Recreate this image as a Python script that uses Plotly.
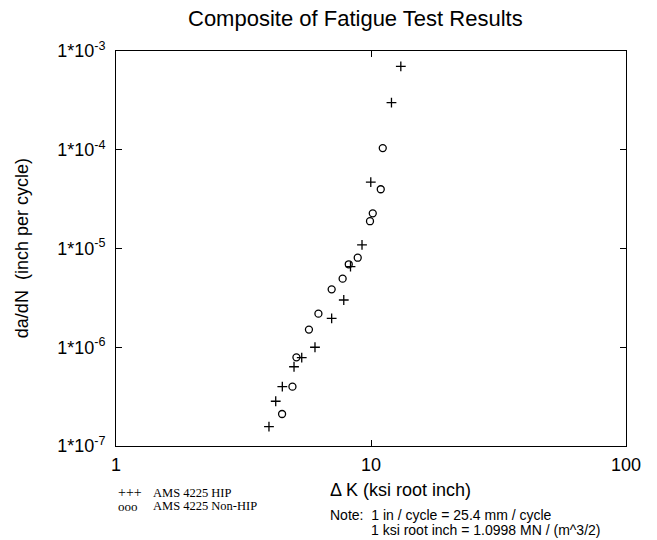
import plotly.graph_objects as go

# Data (Delta K in ksi*sqrt(in), da/dN in in/cycle)
hip_dk = [13.09, 12.03, 9.98, 9.22, 8.31, 7.82, 7.01, 6.03, 5.35, 4.99, 4.49, 4.23, 3.98]
hip_dadn = [7.0e-4, 3.0e-4, 4.71e-5, 1.09e-5, 6.54e-6, 3.01e-6, 1.96e-6, 1.0e-6, 7.84e-7, 6.35e-7, 3.99e-7, 2.84e-7, 1.57e-7]

nonhip_dk = [11.12, 10.92, 10.16, 9.91, 8.87, 8.18, 7.74, 7.01, 6.22, 5.71, 5.10, 4.92, 4.48]
nonhip_dadn = [1.04e-4, 3.98e-5, 2.27e-5, 1.89e-5, 8.07e-6, 6.92e-6, 4.95e-6, 3.86e-6, 2.19e-6, 1.51e-6, 7.91e-7, 3.99e-7, 2.11e-7]

x_tickvals = [1, 10, 100]
x_ticktext = ["1", "10", "100"]
y_tickvals = [1e-7, 1e-6, 1e-5, 1e-4, 1e-3]
y_ticktext = ["1*10<sup>-7</sup>", "1*10<sup>-6</sup>", "1*10<sup>-5</sup>", "1*10<sup>-4</sup>", "1*10<sup>-3</sup>"]

SANS = "Liberation Sans, Arial, sans-serif"
SERIF = "Liberation Serif, Times New Roman, serif"

fig = go.Figure()
fig.add_trace(go.Scatter(
    x=hip_dk, y=hip_dadn, mode="markers", name="AMS 4225 HIP",
    marker=dict(symbol="cross-thin", size=7, color="black",
                line=dict(color="black", width=1.3)),
))
fig.add_trace(go.Scatter(
    x=nonhip_dk, y=nonhip_dadn, mode="markers", name="AMS 4225 Non-HIP",
    marker=dict(symbol="circle-open", size=7, color="black",
                line=dict(color="black", width=1.3)),
))

axis_common = dict(
    showline=True, linecolor="black", linewidth=1, mirror="ticks",
    ticks="inside", ticklen=6, tickcolor="black", tickwidth=1,
    showgrid=False, zeroline=False,
    tickfont=dict(family=SANS, size=18, color="black"),
)

fig.update_xaxes(type="log", range=[0, 2], tickvals=x_tickvals, ticktext=x_ticktext,
                 ticklabelstandoff=2, **axis_common)
fig.update_yaxes(type="log", range=[-7, -3], tickvals=y_tickvals, ticktext=y_ticktext,
                 ticklabelstandoff=6, **axis_common)

fig.update_layout(
    width=657, height=540,
    margin=dict(l=116, r=31, t=51, b=94),
    paper_bgcolor="white", plot_bgcolor="white",
    showlegend=False,
    font=dict(family=SANS, color="black"),
)

annotations = [
    dict(text="Composite of Fatigue Test Results", x=0.47, y=1.0835, xanchor="center",
         font=dict(family=SANS, size=22, color="black")),
    dict(text="da/dN  (inch per cycle)", x=-0.185, y=0.5, textangle=-90, xanchor="center",
         font=dict(family=SANS, size=18, color="black")),
    dict(text="Δ K (ksi root inch)", x=0.5575, y=-0.111, xanchor="center",
         font=dict(family=SANS, size=18, color="black")),
    dict(text="+++", x=0.0, y=-0.118, xanchor="left",
         font=dict(family=SERIF, size=14, color="black")),
    dict(text="AMS 4225 HIP", x=0.068, y=-0.118, xanchor="left",
         font=dict(family=SERIF, size=12.5, color="black")),
    dict(text="ooo", x=0.0, y=-0.152, xanchor="left",
         font=dict(family=SERIF, size=13, color="black")),
    dict(text="AMS 4225 Non-HIP", x=0.068, y=-0.152, xanchor="left",
         font=dict(family=SERIF, size=12.5, color="black")),
    dict(text="Note:  1 in / cycle = 25.4 mm / cycle", x=0.415, y=-0.175, xanchor="left",
         font=dict(family=SANS, size=14, color="black")),
    dict(text="1 ksi root inch = 1.0998 MN / (m^3/2)", x=0.497, y=-0.213, xanchor="left",
         font=dict(family=SANS, size=14, color="black")),
]
for a in annotations:
    a.update(xref="paper", yref="paper", showarrow=False, yanchor="middle")
fig.update_layout(annotations=annotations)

fig.write_html("out.html")
